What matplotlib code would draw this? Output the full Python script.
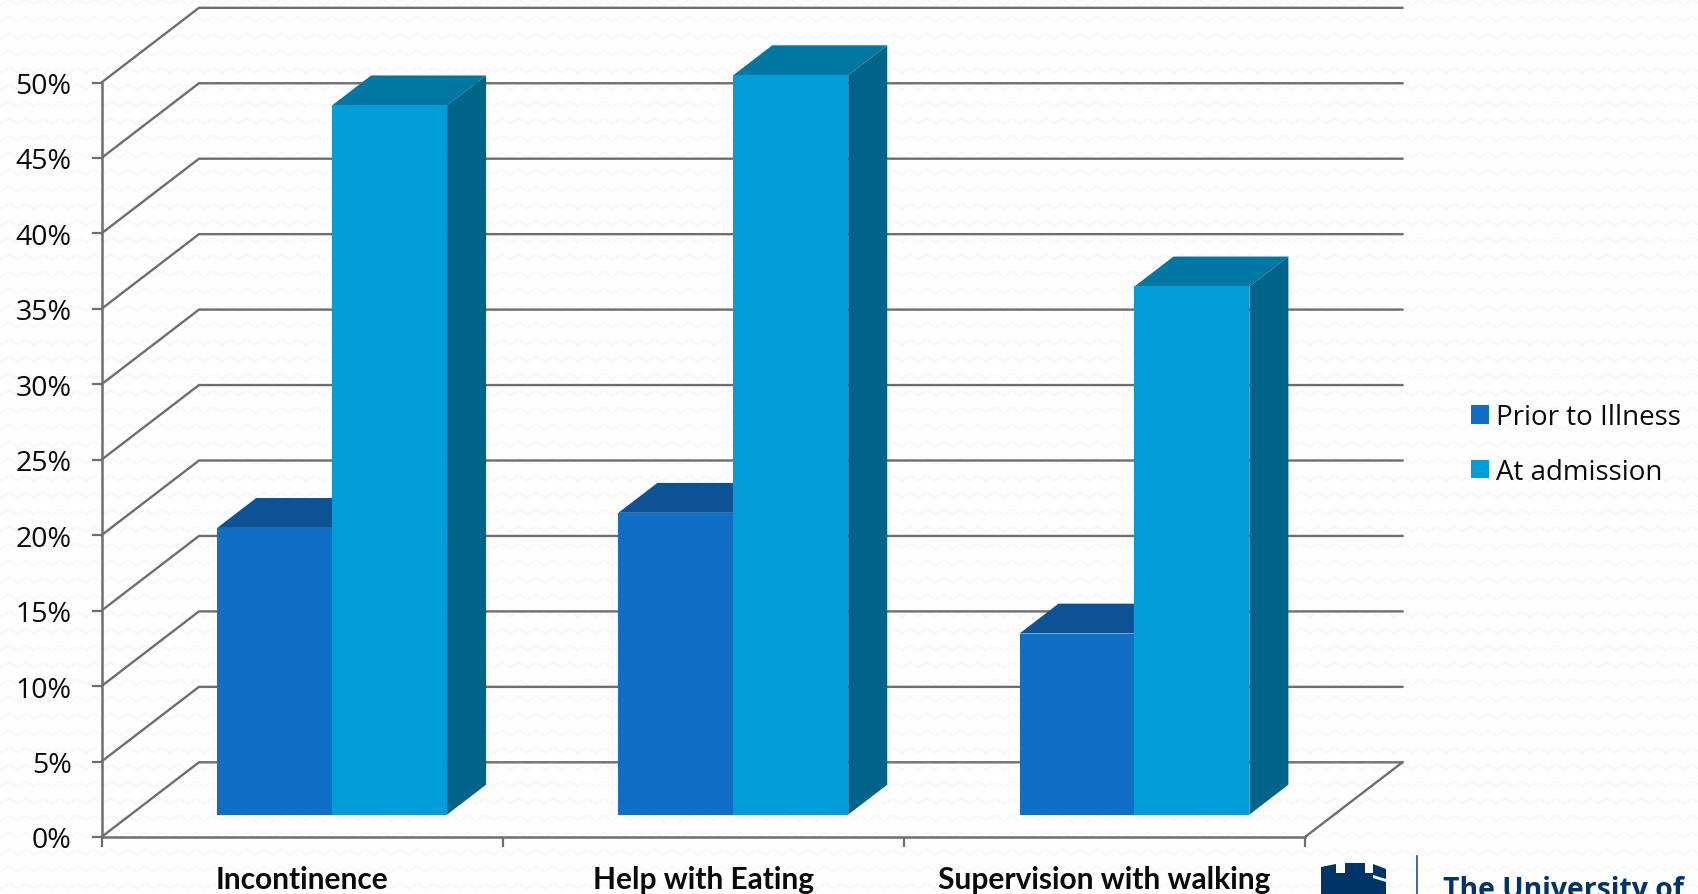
#!/usr/bin/env python3
"""Dependency before illness and at admission, drawn as an oblique 3D column chart."""

import matplotlib
matplotlib.use("Agg")
import matplotlib.pyplot as plt
from matplotlib.patches import Polygon
import numpy as np

# ─── data ─────────────────────────────────────────────────────────────────────
CATEGORIES = ["Incontinence", "Help with Eating", "Supervision with walking"]
PRIOR = [19, 20, 12]
ADMISSION = [47, 49, 35]
Y_TICKS = [0, 5, 10, 15, 20, 25, 30, 35, 40, 45, 50]

# ─── colours ──────────────────────────────────────────────────────────────────
C_GRID = "#6E6E6E"
C_TEXT = "#0A0A0A"
C_NAVY = "#003366"
FACES = {
    "prior": ("#0F6FC6", "#0B5394", "#0A4F8C"),      # front, top, side
    "admission": ("#009DD9", "#0076A3", "#00648A"),
}

W, H = 1698, 895

# depth of the box in data units: 97.5 px across, 74.7 px up
DEPTH_X = 0.243
DEPTH_Y = 4.95
BAR_W = 0.2865
BAR_NEAR = 0.30   # where the bars start along the depth
BAR_DEPTH = 0.40


def background(ax):
    # faint woven zigzag on near white
    yy, xx = np.mgrid[0:H, 0:W]
    tri = np.abs(((xx % 17) / 17.0) * 2 - 1) * 5
    dist = np.abs(((yy % 17) - tri))
    img = np.where(dist < 1.6, 0.975, 0.993)
    ax.imshow(img, cmap="gray", vmin=0, vmax=1, extent=(0, W, H, 0),
              aspect="auto", interpolation="bilinear")
    ax.set_xlim(0, W)
    ax.set_ylim(H, 0)
    ax.axis("off")


def logo(ax):
    castle = [(1321, 895), (1321, 868), (1336, 865), (1336, 874), (1345, 874),
              (1345, 864), (1365, 864), (1365, 874), (1373, 874), (1373, 865),
              (1386, 870), (1386, 895)]
    ax.add_patch(Polygon(castle, closed=True, facecolor=C_NAVY, edgecolor="none"))
    ax.add_patch(Polygon([(1373, 876), (1386, 880), (1386, 883), (1373, 879)],
                         closed=True, facecolor="#FAFAFA", edgecolor="none"))
    ax.plot([1417.5, 1417.5], [857, 895], color="#2F5C8F", lw=1.3)
    ax.text(1443, 898, "The University of", color=C_NAVY, fontsize=20.4,
            fontweight="bold", family="Open Sans", va="baseline", ha="left",
            clip_on=True)


def draw_walls(ax):
    for v in Y_TICKS:
        ax.plot([0, DEPTH_X, 3 + DEPTH_X], [v, v + DEPTH_Y, v + DEPTH_Y],
                color=C_GRID, lw=1.7, clip_on=False, zorder=1,
                solid_joinstyle="miter")
    ax.plot([3, 3 + DEPTH_X], [0, DEPTH_Y], color=C_GRID, lw=1.7,
            clip_on=False, zorder=1)


def draw_series(ax, lefts, values, colours, z):
    front, top, side = colours
    near_x = BAR_NEAR * DEPTH_X
    near_y = BAR_NEAR * DEPTH_Y
    dx = BAR_DEPTH * DEPTH_X
    dy = BAR_DEPTH * DEPTH_Y
    bars = ax.bar(lefts + near_x, values, width=BAR_W, bottom=near_y,
                  align="edge", color=front, linewidth=0, zorder=z + 1, clip_on=False)
    for x, v in zip(lefts, values):
        x0 = x + near_x
        x1 = x0 + BAR_W
        y1 = near_y + v
        ax.add_patch(Polygon([(x0, y1), (x1, y1), (x1 + dx, y1 + dy), (x0 + dx, y1 + dy)],
                             closed=True, facecolor=top, edgecolor="none",
                             zorder=z, clip_on=False))
        ax.add_patch(Polygon([(x1, near_y), (x1 + dx, near_y + dy), (x1 + dx, y1 + dy), (x1, y1)],
                             closed=True, facecolor=side, edgecolor="none",
                             zorder=z, clip_on=False))
    return bars


def main():
    fig = plt.figure(figsize=(W / 100, H / 100), dpi=100, facecolor="white")

    bg = fig.add_axes([0, 0, 1, 1], zorder=0)
    background(bg)
    logo(bg)

    ax = fig.add_axes([101.5 / W, (H - 838) / H, (1305 - 101.5) / W, (838 - 83.5) / H], zorder=1)
    ax.patch.set_visible(False)
    ax.set_xlim(0, 3)
    ax.set_ylim(0, 50)

    ax.spines[["top", "right"]].set_visible(False)
    ax.spines[["left", "bottom"]].set_color(C_GRID)
    ax.spines[["left", "bottom"]].set_linewidth(1.8)

    ax.set_yticks(Y_TICKS)
    ax.set_yticklabels([f"{v}%" for v in Y_TICKS], fontsize=20.5, family="Open Sans", color=C_TEXT)
    ax.set_xticks([0, 1, 2, 3])
    ax.set_xticklabels([])
    ax.tick_params(axis="both", which="major", length=7.5, width=1.6, color=C_GRID)
    ax.tick_params(axis="y", pad=14)

    # category names sit between the ticks
    ax.set_xticks([0.5, 1.5, 2.5], minor=True)
    ax.set_xticklabels(CATEGORIES, minor=True, fontsize=21.5, fontweight="bold",
                       family="Lato", color=C_TEXT)
    ax.tick_params(axis="x", which="minor", length=0, pad=20.5)

    draw_walls(ax)

    gap = (1 - 2 * BAR_W) / 2 + 0.002
    groups = np.arange(len(CATEGORIES)) + gap
    h1 = draw_series(ax, groups, PRIOR, FACES["prior"], 3)
    h2 = draw_series(ax, groups + BAR_W, ADMISSION, FACES["admission"], 5)

    fig.legend([h1, h2], ["Prior to Illness", "At admission"],
               loc="center left", bbox_to_anchor=(1463 / W, (H - 445.5) / H),
               frameon=False, prop={"family": "Open Sans", "size": 20},
               handlelength=0.65, handleheight=0.65, handletextpad=0.25,
               labelspacing=0.94, borderpad=0.3, borderaxespad=0, labelcolor=C_TEXT)

    fig.savefig("out.png", dpi=100, facecolor="white")


if __name__ == "__main__":
    main()
